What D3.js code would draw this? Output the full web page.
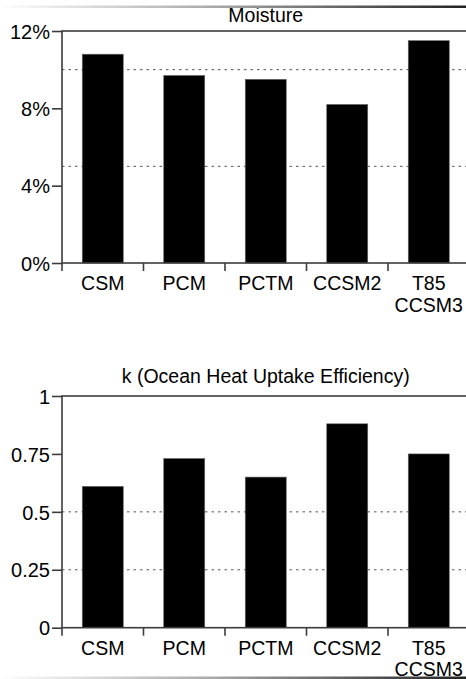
<!DOCTYPE html>
<html>
<head>
<meta charset="utf-8">
<script src="https://cdn.jsdelivr.net/npm/d3@7"></script>
<style>
  body { margin: 0; background: #fff; }
  svg { display: block; font-family: "Liberation Sans", Arial, Helvetica, sans-serif; }
</style>
</head>
<body>
<div id="chart"></div>
<script>
// data
var models = ["CSM", "PCM", "PCTM", "CCSM2", "T85\nCCSM3"];
var moisture = [10.8, 9.7, 9.5, 8.2, 11.5];
var moistureTicks = [0, 4, 8, 12];
var moistureGrid = [5, 10];
var heatUptake = [0.61, 0.73, 0.65, 0.88, 0.75];
var heatTicks = [0, 0.25, 0.5, 0.75, 1];
var heatGrid = [0.25, 0.5];

var W = 466, H = 679;

var svg = d3.select("#chart").append("svg")
  .attr("width", W)
  .attr("height", H);

var left = 62, bandW = 81.5;
var right = left + bandW * models.length;

function panel(cfg)
{
  var g = svg.append("g");

  var x = d3.scaleBand()
    .domain(models)
    .range([left, right])
    .paddingInner(0)
    .paddingOuter(0);

  var y = d3.scaleLinear()
    .domain(cfg.domain)
    .range([cfg.bottom, cfg.top]);

  // dotted grid
  g.selectAll(".grid")
    .data(cfg.grid)
    .enter().append("line")
    .attr("x1", left)
    .attr("x2", right)
    .attr("y1", function(d) { return y(d); })
    .attr("y2", function(d) { return y(d); })
    .attr("stroke", "#555")
    .attr("stroke-width", 1)
    .attr("stroke-dasharray", "2.5,4");

  // bars
  var barW = 41;
  g.selectAll(".bar")
    .data(cfg.values)
    .enter().append("rect")
    .attr("x", function(d, i) { return x(models[i]) + (x.bandwidth() - barW) / 2; })
    .attr("y", function(d) { return y(d); })
    .attr("width", barW)
    .attr("height", function(d) { return y(cfg.domain[0]) - y(d); })
    .attr("fill", "#000")
    .attr("stroke", "#666")
    .attr("stroke-width", 0.6);

  // frame
  g.append("rect")
    .attr("x", left)
    .attr("y", cfg.top)
    .attr("width", right - left)
    .attr("height", cfg.bottom - cfg.top)
    .attr("fill", "none")
    .attr("stroke", "#3c3c3c")
    .attr("stroke-width", 1.6);

  // y axis
  var yAxis = d3.axisLeft(y)
    .tickValues(cfg.ticks)
    .tickSize(10)
    .tickPadding(2)
    .tickFormat(cfg.format);

  var ya = g.append("g")
    .attr("transform", "translate(" + left + ",0)")
    .call(yAxis);
  ya.select(".domain").remove();
  ya.selectAll("line").attr("stroke", "#3c3c3c").attr("stroke-width", 1.6);
  ya.selectAll("text")
    .attr("fill", "#000")
    .style("font-size", "20px")
    .attr("dy", "0.36em");

  // x ticks at band edges
  var edges = models.map(function(m) { return x(m); }).concat([right]);
  g.selectAll(".xtick")
    .data(edges)
    .enter().append("line")
    .attr("x1", function(d) { return d; })
    .attr("x2", function(d) { return d; })
    .attr("y1", cfg.bottom)
    .attr("y2", cfg.bottom + 8)
    .attr("stroke", "#3c3c3c")
    .attr("stroke-width", 1.6);

  // x labels
  var lab = g.selectAll(".xlab")
    .data(models)
    .enter().append("text")
    .attr("x", function(d) { return x(d) + x.bandwidth() / 2; })
    .attr("y", cfg.bottom + 27)
    .attr("text-anchor", "middle")
    .style("font-size", "19.5px");
  lab.selectAll("tspan")
    .data(function(d) { return d.split("\n"); })
    .enter().append("tspan")
    .attr("x", function() { return d3.select(this.parentNode).attr("x"); })
    .attr("dy", function(d, i) { return i ? 21.5 : 0; })
    .text(function(d) { return d; });

  // title
  g.append("text")
    .attr("x", (left + right) / 2)
    .attr("y", cfg.titleY)
    .attr("text-anchor", "middle")
    .style("font-size", "19.5px")
    .text(cfg.title);
}

panel({
  title: "Moisture",
  titleY: 21.7,
  top: 31,
  bottom: 263,
  domain: [0, 12],
  values: moisture,
  ticks: moistureTicks,
  grid: moistureGrid,
  format: function(d) { return d + "%"; }
});

panel({
  title: "k (Ocean Heat Uptake Efficiency)",
  titleY: 383.3,
  top: 396,
  bottom: 627.7,
  domain: [0, 1],
  values: heatUptake,
  ticks: heatTicks,
  grid: heatGrid,
  format: function(d) { return String(d); }
});

// page edge shading, drawn on top
var grad = svg.append("defs").append("linearGradient")
  .attr("id", "edge")
  .attr("x1", "0%").attr("x2", "100%");
grad.append("stop").attr("offset", "0%").attr("stop-color", "#fff");
grad.append("stop").attr("offset", "45%").attr("stop-color", "#aaa");
grad.append("stop").attr("offset", "100%").attr("stop-color", "#222");

svg.append("rect").attr("x", 0).attr("y", 5.5).attr("width", W).attr("height", 2.5)
  .style("fill", "url(#edge)");
svg.append("rect").attr("x", 0).attr("y", 676.5).attr("width", W).attr("height", 2.5)
  .style("fill", "url(#edge)");
</script>
</body>
</html>
